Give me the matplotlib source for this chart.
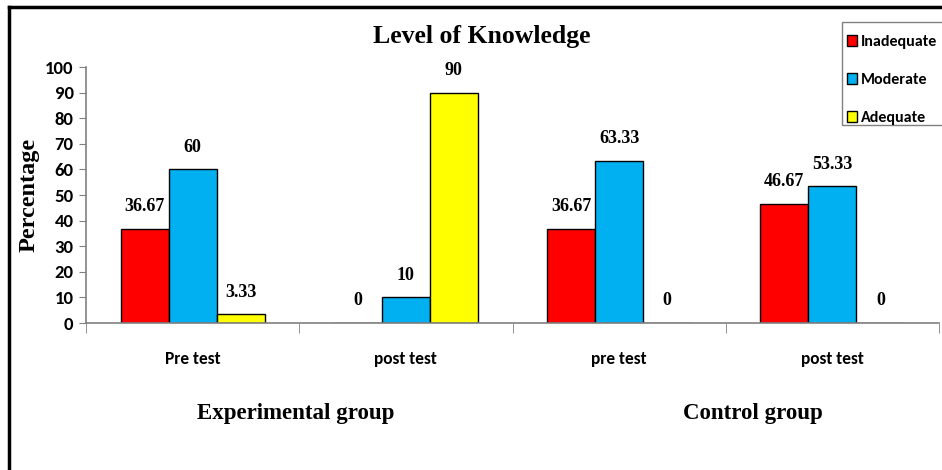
import matplotlib
matplotlib.use("Agg")
import matplotlib.pyplot as plt
from matplotlib.patches import Rectangle
import numpy as np

# data
categories = ["Pre test", "post test", "pre test", "post test"]
groups = ["Experimental group", "Control group"]
inadequate = [36.67, 0, 36.67, 46.67]
moderate = [60, 10, 63.33, 53.33]
adequate = [3.33, 90, 0, 0]
series_names = ["Inadequate", "Moderate", "Adequate"]
colors = ["#ff0000", "#00b0f0", "#ffff00"]

serif = ["Liberation Serif", "DejaVu Serif"]
sans = ["Carlito", "IBM Plex Sans Condensed", "Liberation Sans", "DejaVu Sans"]

W, H = 942, 470
fig = plt.figure(figsize=(W / 100, H / 100), dpi=100)
ax = fig.add_axes([86 / W, 1 - 323 / H, (939 - 86) / W, 256 / H])

x = np.arange(len(categories))
w = 0.225
handles = []
for i, (vals, name, c) in enumerate(zip([inadequate, moderate, adequate], series_names, colors)):
    pos = x + (i - 1) * w
    b = ax.bar(pos, vals, width=w, color=c, edgecolor="black", linewidth=1.0, label=name)
    handles.append(b)
    for px, v in zip(pos, vals):
        ax.annotate(f"{v:g}", (px, v), xytext=(0, 16), textcoords="offset points",
                    ha="center", va="center", fontsize=13, fontweight="bold", family=serif)

ax.set_xlim(-0.5, len(categories) - 0.5)
ax.set_ylim(0, 100)
ax.set_yticks(range(0, 101, 10))
ax.set_yticklabels([str(t) for t in range(0, 101, 10)], fontsize=13.5, fontweight="bold", family=sans)
ax.set_xticks(x)
ax.set_xticklabels(categories, fontsize=12.5, fontweight="bold", family=sans)
ax.set_xticks(np.arange(len(categories) + 1) - 0.5, minor=True)
ax.tick_params(axis="x", which="major", length=0, pad=20)
ax.tick_params(axis="x", which="minor", length=7, color="#808080", direction="out")
ax.tick_params(axis="y", length=5, color="#808080", direction="out", pad=4)
for s in ["top", "right"]:
    ax.spines[s].set_visible(False)
for s in ["left", "bottom"]:
    ax.spines[s].set_color("#808080")
    ax.spines[s].set_linewidth(1.2)

ax.set_ylabel("Percentage", fontsize=17.5, fontweight="bold", family=serif)
ax.yaxis.set_label_coords(-46 / 853, 0.5)

fig.text(482 / W, 1 - 36 / H, "Level of Knowledge", ha="center", va="center",
         fontsize=18.5, fontweight="bold", family=serif)
fig.text(296 / W, 1 - 413 / H, groups[0], ha="center", va="center",
         fontsize=16.5, fontweight="bold", family=serif)
fig.text(753 / W, 1 - 413 / H, groups[1], ha="center", va="center",
         fontsize=16.5, fontweight="bold", family=serif)

# legend box drawn by hand (padding is uneven in the original)
fig.add_artist(Rectangle((842 / W, 1 - 125 / H), 102 / W, 103 / H, transform=fig.transFigure,
                         facecolor="white", edgecolor="#808080", linewidth=1.0, zorder=3))
leg = fig.legend(handles=handles, loc="upper left", bbox_to_anchor=(847 / W, 1 - 35 / H),
                 frameon=False, handlelength=0.65, handleheight=0.65, handletextpad=0.25,
                 labelspacing=1.5, borderpad=0, borderaxespad=0,
                 prop={"family": sans, "weight": "bold", "size": 11.5})
leg.set_zorder(4)

# outer frame (left and top edges visible)
fig.add_artist(plt.Line2D([9 / W, 9 / W], [0, 1 - 7 / H], transform=fig.transFigure,
                          color="black", linewidth=2.5))
fig.add_artist(plt.Line2D([9 / W, 1], [1 - 7 / H, 1 - 7 / H], transform=fig.transFigure,
                          color="black", linewidth=2.5))

fig.savefig("out.png", dpi=100)
